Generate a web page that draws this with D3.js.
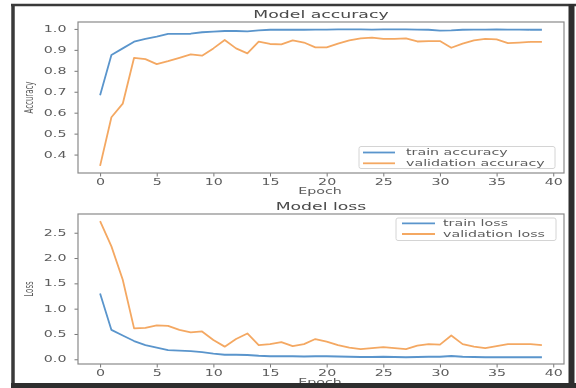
<!DOCTYPE html>
<html><head><meta charset="utf-8">
<script src="https://cdn.jsdelivr.net/npm/d3@7"></script>
<style>
html,body{margin:0;padding:0;background:#fff;}
svg{display:block;font-family:"DejaVu Sans",sans-serif;}
</style></head>
<body>
<svg id="c" width="576" height="388"></svg>
<script>
const epochs = [0,1,2,3,4,5,6,7,8,9,10,11,12,13,14,15,16,17,18,19,20,21,22,23,24,25,26,27,28,29,30,31,32,33,34,35,36,37,38,39];
const trainAcc = [0.683,0.875,0.907,0.939,0.952,0.963,0.976,0.976,0.977,0.984,0.987,0.990,0.990,0.988,0.993,0.996,0.996,0.997,0.996,0.997,0.997,0.998,0.998,0.998,0.997,0.998,0.998,0.998,0.997,0.996,0.992,0.993,0.996,0.997,0.997,0.998,0.997,0.997,0.996,0.996];
const valAcc = [0.346,0.578,0.643,0.862,0.856,0.832,0.846,0.862,0.878,0.872,0.907,0.947,0.907,0.883,0.939,0.928,0.926,0.945,0.935,0.912,0.912,0.930,0.945,0.955,0.958,0.952,0.952,0.955,0.940,0.942,0.942,0.910,0.930,0.945,0.952,0.950,0.932,0.935,0.938,0.938];
const trainLoss = [1.30,0.58,0.47,0.36,0.28,0.23,0.18,0.17,0.16,0.14,0.11,0.09,0.09,0.085,0.07,0.06,0.06,0.06,0.055,0.06,0.06,0.055,0.05,0.045,0.045,0.05,0.045,0.04,0.045,0.05,0.05,0.065,0.05,0.045,0.04,0.04,0.04,0.04,0.04,0.04];
const valLoss = [2.73,2.23,1.57,0.61,0.62,0.67,0.66,0.58,0.53,0.55,0.38,0.25,0.40,0.51,0.28,0.30,0.34,0.26,0.30,0.40,0.35,0.28,0.23,0.20,0.22,0.24,0.22,0.20,0.27,0.30,0.29,0.47,0.30,0.25,0.22,0.26,0.30,0.30,0.30,0.28];
const xTicks = [0,5,10,15,20,25,30,35,40];
const accTicks = [0.4,0.5,0.6,0.7,0.8,0.9,1.0];
const lossTicks = [0.0,0.5,1.0,1.5,2.0,2.5];
const accLegend = ["train accuracy","validation accuracy"];
const lossLegend = ["train loss","validation loss"];

const SX = 1.78;
const BLUE = "#5a95cc", ORANGE = "#f4a862";
const TXT = "#5c5c5c";
const svg = d3.select("#c");

const defs = svg.append("defs");
defs.append("filter").attr("id","soft").attr("x","-5%").attr("y","-5%").attr("width","110%").attr("height","110%")
  .append("feGaussianBlur").attr("stdDeviation",0.5);

svg.append("rect").attr("x",0).attr("y",0).attr("width",576).attr("height",388).attr("fill","#fff");
const root = svg.append("g").attr("filter","url(#soft)");

const x = d3.scaleLinear().domain([-1.95,40.95]).range([78,564]);

function panel(cfg){
  const y = d3.scaleLinear().domain(cfg.ydom).range([cfg.bottom,cfg.top]);
  const g = root.append("g");
  const gx = g.append("g").attr("transform",`translate(0,${cfg.bottom})`)
    .call(d3.axisBottom(x).tickValues(xTicks).tickFormat(d3.format("d")).tickSize(3.5).tickPadding(3).tickSizeOuter(0));
  const gy = g.append("g").attr("transform",`translate(78,0)`)
    .call(d3.axisLeft(y).tickValues(cfg.ticks).tickFormat(d3.format(".1f")).tickSize(3.5).tickPadding(3).tickSizeOuter(0));
  [gx,gy].forEach(a=>{
    a.select(".domain").remove();
    a.selectAll(".tick line").attr("stroke","#777").attr("stroke-width",1);
    a.selectAll(".tick text").attr("font-size",8).attr("fill",TXT)
      .attr("font-family","DejaVu Sans").attr("transform",`scale(${SX},1)`);
  });
  const line = d3.line().x((d,i)=>x(epochs[i])).y(d=>y(d));
  g.append("path").datum(cfg.s1).attr("d",line).attr("fill","none").attr("stroke",BLUE).attr("stroke-width",1.8).attr("stroke-linejoin","round");
  g.append("path").datum(cfg.s2).attr("d",line).attr("fill","none").attr("stroke",ORANGE).attr("stroke-width",1.8).attr("stroke-linejoin","round");
  g.append("rect").attr("x",78).attr("y",cfg.top).attr("width",564-78).attr("height",cfg.bottom-cfg.top)
    .attr("fill","none").attr("stroke","#8a8a8a").attr("stroke-width",1.2);
  g.append("text").attr("transform",`translate(321,${cfg.titleY}) scale(1.73,1)`).attr("text-anchor","middle")
    .attr("font-size",10).attr("fill","#4a4a4a").text(cfg.title);
  g.append("text").attr("transform",`translate(320,${cfg.xlabY}) scale(${SX},1)`).attr("text-anchor","middle")
    .attr("font-size",8).attr("fill",TXT).text("Epoch");
  g.append("text").attr("transform",`translate(29,${(cfg.top+cfg.bottom)/2}) scale(1.7,1) rotate(-90)`)
    .attr("text-anchor","middle").attr("dy","0.35em").attr("font-size",7).attr("fill",TXT).text(cfg.ylab);
  const L = cfg.leg;
  g.append("rect").attr("x",L.x0).attr("y",L.y0).attr("width",L.x1-L.x0).attr("height",L.y1-L.y0).attr("rx",2)
    .attr("fill","#fff").attr("fill-opacity",0.8).attr("stroke","#d4d4d4").attr("stroke-width",1);
  [BLUE,ORANGE].forEach((c,i)=>{
    g.append("line").attr("x1",L.lx0).attr("x2",L.lx1).attr("y1",L.rows[i]).attr("y2",L.rows[i])
      .attr("stroke",c).attr("stroke-width",1.8);
    g.append("text").attr("transform",`translate(${L.tx},${L.rows[i]}) scale(${SX},1)`).attr("dy","0.35em")
      .attr("font-size",8).attr("fill",TXT).text(cfg.legText[i]);
  });
}

panel({ydom:[0.312,1.033], top:22, bottom:173, ticks:accTicks, s1:trainAcc, s2:valAcc,
  title:"Model accuracy", titleY:18, xlabY:194, ylab:"Accuracy",
  leg:{x0:359,x1:555,y0:146.5,y1:168.5,lx0:363,lx1:395,tx:406,rows:[152.5,163.3]}, legText:accLegend});
panel({ydom:[-0.093,2.87], top:214, bottom:364, ticks:lossTicks, s1:trainLoss, s2:valLoss,
  title:"Model loss", titleY:210, xlabY:385, ylab:"Loss",
  leg:{x0:396,x1:556,y0:218,y1:240.5,lx0:402,lx1:435,tx:443,rows:[223.3,234]}, legText:lossLegend});

svg.append("line").attr("x1",13).attr("x2",13).attr("y1",4).attr("y2",388).attr("stroke","#3a3a3a").attr("stroke-width",3.5);
svg.append("line").attr("x1",11).attr("x2",576).attr("y1",5).attr("y2",5).attr("stroke","#3a3a3a").attr("stroke-width",2.5);
svg.append("line").attr("x1",571.5).attr("x2",571.5).attr("y1",4).attr("y2",388).attr("stroke","#2e2e2e").attr("stroke-width",6);
svg.append("line").attr("x1",11).attr("x2",576).attr("y1",385.5).attr("y2",385.5).attr("stroke","#2e2e2e").attr("stroke-width",5);
</script>
</body></html>
